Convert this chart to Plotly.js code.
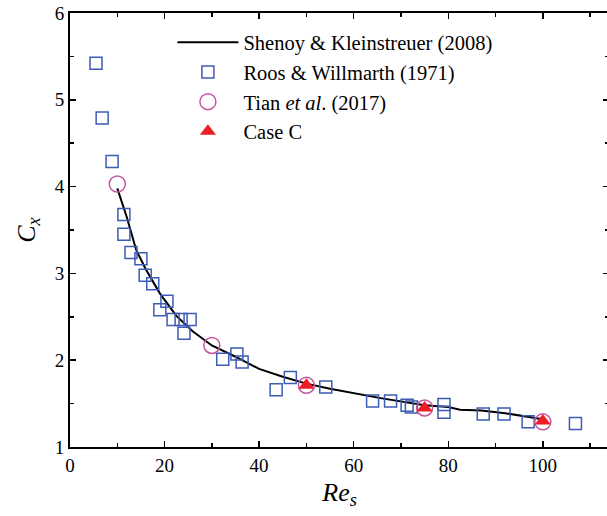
<!DOCTYPE html>
<html>
<head>
<meta charset="utf-8">
<script src="https://cdn.plot.ly/plotly-3.0.1.min.js"></script>
<style>
html,body{margin:0;padding:0;overflow:hidden;background:#fff;}
#chart{width:612px;height:516px;}
</style>
</head>
<body>
<div id="chart"></div>
<script>
// Shenoy & Kleinstreuer (2008) curve
const skX = [10, 12, 14, 16, 19, 22.5, 26, 30, 35, 40, 45, 50, 55, 60, 66, 75, 80, 82.5, 87, 92, 97, 100];
const skY = [3.98, 3.65, 3.27, 3.05, 2.77, 2.51, 2.33, 2.17, 2.04, 1.90, 1.81, 1.73, 1.67, 1.62, 1.56, 1.48, 1.46, 1.43, 1.42, 1.39, 1.35, 1.32];
// Roos & Willmarth (1971)
const rwX = [5.5, 6.8, 8.9, 11.4, 11.4, 12.9, 15.0, 15.9, 17.5, 20.5, 19.0, 21.8, 23.5, 25.4, 24.1, 32.3, 35.3, 36.4, 43.6, 46.6, 54.1, 64.0, 67.8, 71.3, 72.2, 79.1, 79.1, 87.4, 91.8, 96.9, 106.9];
const rwY = [5.42, 4.79, 4.29, 3.68, 3.45, 3.24, 3.17, 2.98, 2.88, 2.68, 2.58, 2.47, 2.47, 2.47, 2.31, 2.01, 2.07, 1.98, 1.66, 1.80, 1.69, 1.53, 1.53, 1.48, 1.46, 1.49, 1.40, 1.38, 1.38, 1.29, 1.27];
// Tian et al. (2017)
const tiX = [10, 30, 50, 75, 100];
const tiY = [4.03, 2.17, 1.71, 1.45, 1.29];
// Case C
const ccX = [50, 75, 100];
const ccY = [1.71, 1.45, 1.30];

const font = '"Liberation Serif", "Times New Roman", serif';

const traces = [
  {x: skX, y: skY, mode: 'lines', name: 'Shenoy &amp; Kleinstreuer (2008)',
   line: {color: '#000', width: 2}},
  {x: rwX, y: rwY, mode: 'markers', name: 'Roos &amp; Willmarth (1971)',
   marker: {symbol: 'square-open', size: 12, color: '#3d5cb3', line: {width: 1.5}}},
  {x: tiX, y: tiY, mode: 'markers', name: 'Tian <i>et al</i>. (2017)',
   marker: {symbol: 'circle-open', size: 16, color: '#c4569e', line: {width: 1.5}}},
  {x: ccX, y: ccY, mode: 'markers', name: 'Case C',
   marker: {symbol: 'triangle-up', size: 14, color: '#ee1d25'}}
];

const axisCommon = {
  showline: true, linecolor: '#000', linewidth: 2, mirror: 'ticks',
  ticks: 'inside', ticklen: 6, tickwidth: 1.5, tickcolor: '#000',
  showgrid: false, zeroline: false,
  tickfont: {family: font, size: 19, color: '#000'}
};

const layout = {
  width: 612, height: 516,
  margin: {l: 70, r: 3, t: 13, b: 69},
  paper_bgcolor: '#fff', plot_bgcolor: '#fff',
  showlegend: true,
  font: {family: font},
  xaxis: Object.assign({}, axisCommon, {
    range: [0, 114], dtick: 20, tick0: 0,
    minor: {dtick: 10, ticks: 'inside', ticklen: 4, tickwidth: 1.5, tickcolor: '#000'},
    title: {text: '<i>Re<sub>s</sub></i>', font: {family: font, size: 26, color: '#000'}, standoff: 8}
  }),
  yaxis: Object.assign({}, axisCommon, {
    range: [1, 6], dtick: 1, tick0: 1,
    minor: {dtick: 0.5, ticks: 'inside', ticklen: 4, tickwidth: 1.5, tickcolor: '#000'},
    title: {text: '<i>C<sub>x</sub></i>', font: {family: font, size: 26, color: '#000'}, standoff: 12}
  }),
  legend: {
    x: 0.19, y: 0.978, xanchor: 'left', yanchor: 'top',
    bgcolor: 'rgba(0,0,0,0)', borderwidth: 0,
    font: {family: font, size: 20.5, color: '#000'},
    itemwidth: 61
  }
};

Plotly.newPlot('chart', traces, layout, {displayModeBar: false, staticPlot: true});
</script>
</body>
</html>
